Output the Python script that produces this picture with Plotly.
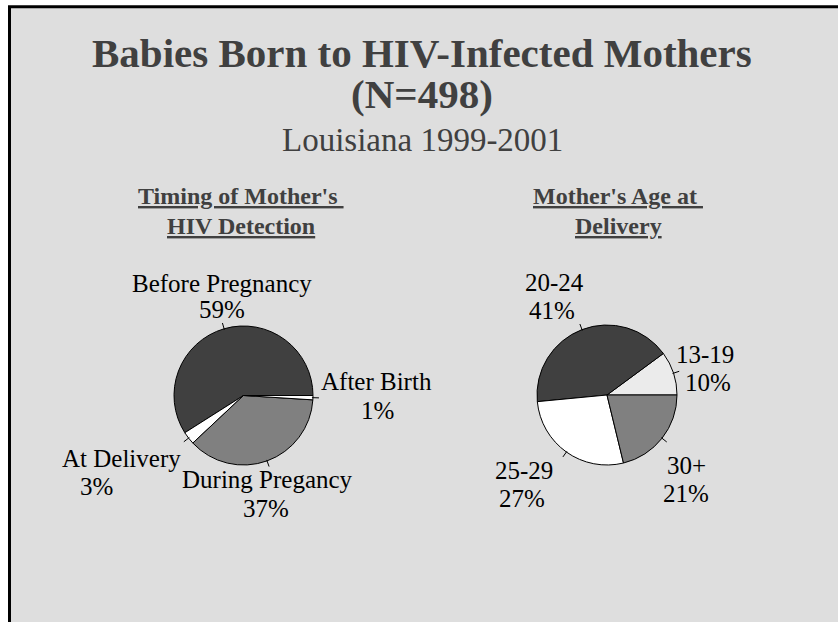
import math
import plotly.graph_objects as go

W, H = 838, 622

title_lines = ["Babies Born to HIV-Infected Mothers", "(N=498)", "Louisiana 1999-2001"]

timing_title = ["Timing of Mother's ", "HIV Detection"]
timing_labels = ["Before Pregnancy", "At Delivery", "During Pregancy", "After Birth"]
timing_values = [59, 3, 37, 1]
timing_colors = ["#404040", "#FFFFFF", "#808080", "#FFFFFF"]

age_title = ["Mother's Age at ", "Delivery"]
age_labels = ["13-19", "20-24", "25-29", "30+"]
age_values = [10, 41, 27, 21]
age_colors = ["#EBEBEB", "#404040", "#FFFFFF", "#808080"]

# label placement (pixel centers): name line, percent line
timing_label_pos = [((222, 283), (222, 309)), ((121, 458), (96, 486)),
                    ((267, 480), (266, 508)), ((376, 381), (377, 410))]
age_label_pos = [((705, 354), (708, 382)), ((554, 282), (552, 310)),
                 ((524, 470), (522, 498)), ((686, 466), (686, 494))]

pies = [
    dict(cx=243.5, cy=395.5, r=69.5, labels=timing_labels, values=timing_values,
         colors=timing_colors, pos=timing_label_pos, title=timing_title, tx=241),
    dict(cx=607, cy=395, r=70, labels=age_labels, values=age_values,
         colors=age_colors, pos=age_label_pos, title=age_title, tx=618),
]

def px(x):
    return x / W

def py(y):
    return 1 - y / H

fig = go.Figure()
shapes = []
annotations = []

# slide background with frame
shapes.append(dict(type="rect", xref="paper", yref="paper", layer="below",
                   x0=px(9.5), y0=py(H + 20), x1=px(W + 20), y1=py(6.75),
                   fillcolor="#DEDEDE", line=dict(color="black", width=3)))

serif = "Liberation Serif, Times New Roman, serif"

for p in pies:
    total = sum(p["values"])
    first_deg = p["values"][0] / total * 360
    fig.add_trace(go.Pie(
        labels=p["labels"], values=p["values"], sort=False,
        direction="counterclockwise", rotation=90 - first_deg,
        marker=dict(colors=p["colors"], line=dict(color="black", width=1)),
        textinfo="none", hoverinfo="label+percent", showlegend=False,
        domain=dict(x=[px(p["cx"] - p["r"]), px(p["cx"] + p["r"])],
                    y=[py(p["cy"] + p["r"]), py(p["cy"] - p["r"])]),
    ))
    cum = 0
    for lab, val, (l1, l2) in zip(p["labels"], p["values"], p["pos"]):
        mid = (cum + val / 2) / total * 2 * math.pi
        cum += val
        c, s = math.cos(mid), math.sin(mid)
        r0, r1 = p["r"] - 1, p["r"] + 6
        shapes.append(dict(type="line", xref="paper", yref="paper",
                           x0=px(p["cx"] + r0 * c), y0=py(p["cy"] - r0 * s),
                           x1=px(p["cx"] + r1 * c), y1=py(p["cy"] - r1 * s),
                           line=dict(color="black", width=1)))
        annotations.append(dict(text=lab, x=px(l1[0]), y=py(l1[1]), xref="paper", yref="paper",
                                xanchor="center", yanchor="middle", showarrow=False,
                                font=dict(family=serif, size=25, color="black")))
        annotations.append(dict(text=f"{val}%", x=px(l2[0]), y=py(l2[1]), xref="paper", yref="paper",
                                xanchor="center", yanchor="middle", showarrow=False,
                                font=dict(family=serif, size=25, color="black")))
    for i, t in enumerate(p["title"]):
        annotations.append(dict(text=f"<b>{t}</b>", x=px(p["tx"]), y=py(196 + 30 * i),
                                xref="paper", yref="paper", xanchor="center", yanchor="middle",
                                showarrow=False,
                                font=dict(family=serif, size=24, color="#404040", lineposition="under")))

title_y = [53, 94, 140]
title_sizes = [41, 41, 33]
for i, t in enumerate(title_lines):
    txt = f"<b>{t}</b>" if i < 2 else t
    annotations.append(dict(text=txt, x=px(422), y=py(title_y[i]), xref="paper", yref="paper",
                            xanchor="center", yanchor="middle", showarrow=False,
                            font=dict(family=serif, size=title_sizes[i], color="#404040")))

fig.update_layout(
    width=W, height=H, margin=dict(l=0, r=0, t=0, b=0),
    paper_bgcolor="white", plot_bgcolor="white",
    shapes=shapes, annotations=annotations,
)

fig.write_html("out.html", config={"displayModeBar": False},
               post_script="document.body.style.margin='0';")
